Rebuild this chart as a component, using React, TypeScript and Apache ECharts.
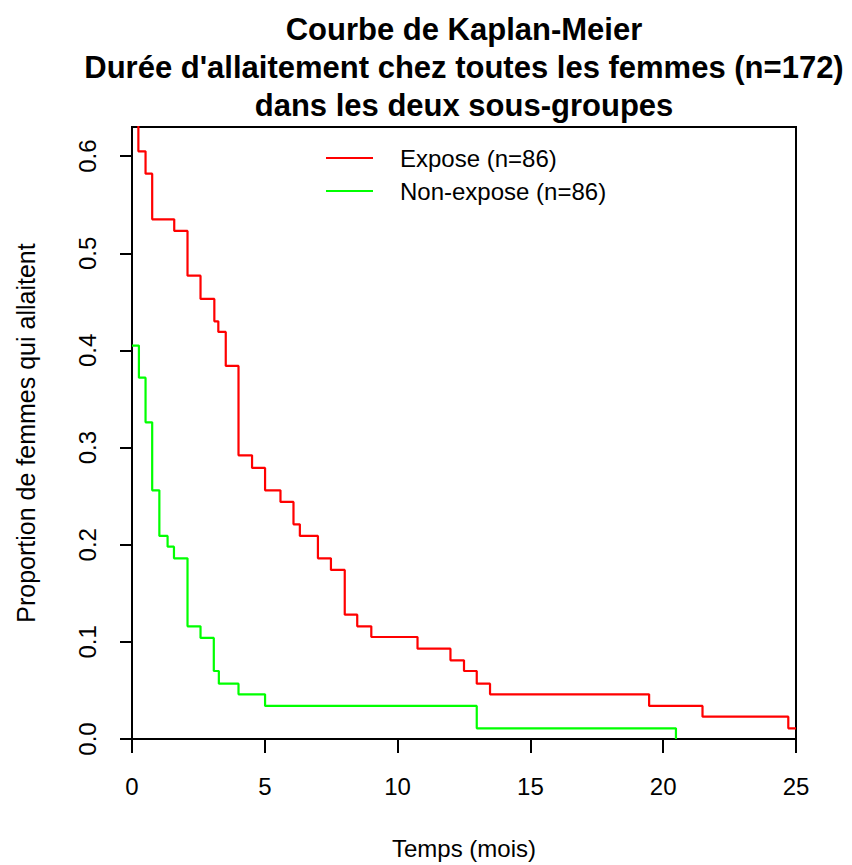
import React, { useEffect, useRef } from "react";
import * as echarts from "echarts";

const titleLines = [
  "Courbe de Kaplan-Meier",
  "Durée d'allaitement chez toutes les femmes (n=172)",
  "dans les deux sous-groupes",
];
const xAxisName = "Temps (mois)";
const yAxisName = "Proportion de femmes qui allaitent";
const yTickValues = [0, 0.1, 0.2, 0.3, 0.4, 0.5, 0.6];
const xTickValues = [0, 5, 10, 15, 20, 25];

const exposeName = "Expose (n=86)";
const exposeTimes = [0, 0.24, 0.51, 0.76, 1.59, 2.09, 2.58, 3.1, 3.25, 3.53, 4.01, 4.52, 5.01, 5.59, 6.08, 6.32, 7.0, 7.49, 8.01, 8.48, 9.01, 10.75, 11.99, 12.5, 12.98, 13.48, 19.47, 21.48, 24.71, 25];
const exposeSurv = [0.65, 0.605, 0.582, 0.535, 0.523, 0.477, 0.453, 0.43, 0.419, 0.384, 0.292, 0.279, 0.256, 0.244, 0.221, 0.209, 0.186, 0.174, 0.128, 0.116, 0.105, 0.093, 0.081, 0.07, 0.057, 0.046, 0.034, 0.023, 0.011, 0.011];

const nonExposeName = "Non-expose (n=86)";
const nonExposeTimes = [0, 0.26, 0.51, 0.76, 1.03, 1.34, 1.58, 2.09, 2.58, 3.08, 3.27, 4.01, 5.01, 12.98, 20.48];
const nonExposeSurv = [0.405, 0.372, 0.326, 0.256, 0.209, 0.198, 0.186, 0.116, 0.104, 0.07, 0.057, 0.046, 0.034, 0.011, 0];

const FONT = "'Liberation Sans', Arial, Helvetica, sans-serif";

export default function App() {
  const ref = useRef<HTMLDivElement>(null);
  useEffect(() => {
    if (!ref.current) return;
    const chart = echarts.init(ref.current, null, { renderer: "svg" });
    const zip = (xs: number[], ys: number[]) => xs.map((x, i) => [x, ys[i]]);
    chart.setOption({
      animation: false,
      backgroundColor: "#ffffff",
      title: {
        text: titleLines.join("\n"),
        left: 464,
        top: 10,
        padding: 0,
        textAlign: "center",
        textStyle: {
          fontFamily: FONT,
          fontSize: 31,
          fontWeight: "bold",
          lineHeight: 38,
          color: "#000",
        },
      },
      legend: {
        orient: "vertical",
        left: 326,
        top: 144,
        padding: 0,
        icon: "rect",
        itemWidth: 47,
        itemHeight: 2,
        itemGap: 5,
        data: [exposeName, nonExposeName],
        textStyle: {
          fontFamily: FONT,
          fontSize: 24,
          lineHeight: 28,
          color: "#000",
          padding: [0, 0, 0, 22],
        },
      },
      grid: {
        left: 132,
        top: 127,
        width: 664,
        height: 614,
        show: true,
        borderColor: "#000",
        borderWidth: 2,
        backgroundColor: "transparent",
      },
      xAxis: {
        type: "value",
        min: 0,
        max: 25,
        interval: 5,
        name: xAxisName,
        nameLocation: "middle",
        nameGap: 97,
        nameTextStyle: { fontFamily: FONT, fontSize: 24, color: "#000" },
        axisLine: { show: false },
        axisTick: {
          show: true,
          length: 14,
          lineStyle: { color: "#000", width: 2 },
          customValues: xTickValues,
        },
        axisLabel: {
          fontFamily: FONT,
          fontSize: 24,
          color: "#000",
          margin: 35,
          customValues: xTickValues,
          formatter: (v: number) => String(v),
        },
        splitLine: { show: false },
      },
      yAxis: {
        type: "value",
        min: 0,
        max: 0.63,
        interval: 0.1,
        name: yAxisName,
        nameLocation: "middle",
        nameGap: 94,
        nameRotate: 90,
        nameTextStyle: { fontFamily: FONT, fontSize: 25, color: "#000" },
        axisLine: { show: false },
        axisTick: {
          show: true,
          length: 12,
          lineStyle: { color: "#000", width: 2 },
          customValues: yTickValues,
        },
        axisLabel: {
          fontFamily: FONT,
          fontSize: 24,
          color: "#000",
          rotate: 90,
          margin: 33,
          customValues: yTickValues,
          formatter: (v: number) => v.toFixed(1),
        },
        splitLine: { show: false },
      },
      series: [
        {
          name: exposeName,
          type: "line",
          step: "end",
          symbol: "none",
          clip: true,
          data: zip(exposeTimes, exposeSurv),
          lineStyle: { color: "#ff0000", width: 2.2 },
          itemStyle: { color: "#ff0000" },
        },
        {
          name: nonExposeName,
          type: "line",
          step: "end",
          symbol: "none",
          clip: true,
          data: zip(nonExposeTimes, nonExposeSurv),
          lineStyle: { color: "#00ff00", width: 2.2 },
          itemStyle: { color: "#00ff00" },
        },
      ],
    });
    return () => chart.dispose();
  }, []);
  return (
    <div
      ref={ref}
      style={{ position: "fixed", left: 0, top: 0, width: 852, height: 865 }}
    />
  );
}
